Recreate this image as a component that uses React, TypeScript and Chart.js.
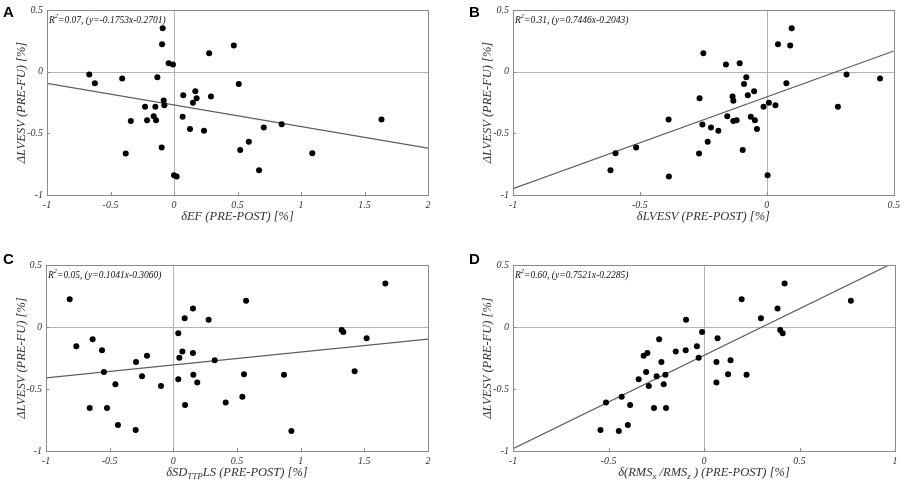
import { useEffect, useRef } from 'react';
import { Chart, registerables } from 'chart.js';

Chart.register(...registerables);

// ---- data ----
const yTicks = [-1, -0.5, 0, 0.5];

// A: dEF vs dLVESV
const aX = [-0.667, -0.623, -0.408, -0.34, -0.38, -0.228, -0.212, -0.16, -0.147, -0.141, -0.131, -0.089, -0.094, -0.081, -0.076, -0.097, -0.042, -0.008, 0.0, 0.021, 0.073, 0.068, 0.126, 0.149, 0.168, 0.178, 0.236, 0.277, 0.291, 0.471, 0.51, 0.521, 0.589, 0.67, 0.707, 0.848, 1.089, 1.634];
const aY = [-0.023, -0.093, -0.055, -0.401, -0.664, -0.285, -0.393, -0.361, -0.285, -0.393, -0.045, 0.353, 0.223, -0.234, -0.272, -0.615, 0.069, 0.058, -0.839, -0.85, -0.191, -0.366, -0.464, -0.253, -0.158, -0.215, -0.48, 0.15, -0.201, 0.212, -0.101, -0.636, -0.569, -0.799, -0.453, -0.426, -0.661, -0.388];
const aXTicks = [-1, -0.5, 0, 0.5, 1, 1.5, 2];

// B: dLVESV (PRE-POST)
const bX = [-0.616, -0.596, -0.515, -0.387, -0.386, -0.265, -0.267, -0.25, -0.254, -0.233, -0.22, -0.191, -0.161, -0.156, -0.135, -0.132, -0.132, -0.119, -0.107, -0.095, -0.09, -0.081, -0.075, -0.063, -0.05, -0.047, -0.039, -0.013, 0.003, 0.008, 0.034, 0.044, 0.077, 0.092, 0.098, 0.28, 0.314, 0.446];
const bY = [-0.799, -0.661, -0.615, -0.388, -0.85, -0.215, -0.664, 0.15, -0.428, -0.569, -0.453, -0.48, 0.058, -0.361, -0.201, -0.236, -0.401, -0.393, 0.069, -0.636, -0.101, -0.045, -0.191, -0.366, -0.158, -0.393, -0.464, -0.285, -0.839, -0.253, -0.272, 0.223, -0.093, 0.212, 0.353, -0.285, -0.023, -0.055];
const bXTicks = [-1, -0.5, 0, 0.5];

// C: dSD_TTP LS
const cX = [-0.814, -0.762, -0.634, -0.56, -0.545, -0.657, -0.521, -0.455, -0.435, -0.293, -0.296, -0.246, -0.207, -0.097, 0.039, 0.047, 0.039, 0.071, 0.089, 0.092, 0.154, 0.154, 0.157, 0.188, 0.277, 0.325, 0.411, 0.542, 0.555, 0.571, 0.869, 0.927, 1.322, 1.335, 1.424, 1.518, 1.665];
const cY = [0.223, -0.155, -0.099, -0.188, -0.362, -0.654, -0.654, -0.461, -0.791, -0.282, -0.831, -0.397, -0.231, -0.475, -0.051, -0.247, -0.421, -0.198, 0.07, -0.63, 0.15, -0.209, -0.386, -0.448, 0.059, -0.268, -0.609, -0.563, -0.381, 0.212, -0.386, -0.839, -0.024, -0.04, -0.357, -0.091, 0.351];
const cXTicks = [-1, -0.5, 0, 0.5, 1, 1.5, 2];

// D: d(RMSx/RMSz)
const dX = [-0.542, -0.513, -0.446, -0.431, -0.399, -0.387, -0.342, -0.316, -0.296, -0.303, -0.289, -0.262, -0.248, -0.235, -0.223, -0.211, -0.202, -0.199, -0.148, -0.096, -0.094, -0.037, -0.028, -0.01, 0.065, 0.065, 0.071, 0.126, 0.139, 0.197, 0.223, 0.298, 0.385, 0.399, 0.412, 0.422, 0.769];
const dY = [-0.831, -0.609, -0.839, -0.563, -0.791, -0.63, -0.421, -0.231, -0.209, -0.362, -0.475, -0.654, -0.397, -0.099, -0.282, -0.461, -0.386, -0.654, -0.198, -0.188, 0.059, -0.155, -0.247, -0.04, -0.282, -0.448, -0.091, -0.381, -0.268, 0.223, -0.386, 0.07, 0.15, -0.024, -0.051, 0.351, 0.212];
const dXTicks = [-1, -0.5, 0, 0.5, 1];

// regression fits per panel A..D
const fitR2 = ['0.07', '0.31', '0.05', '0.60'];
const fitSlope = [-0.1753, 0.7446, 0.1041, 0.7521];
const fitIntercept = [-0.2701, -0.2043, -0.306, -0.2285];

const yTitle = 'ΔLVESV (PRE-FU) [%]';

type Seg = { t: string; sub?: boolean };

const SERIF = '"Liberation Serif", "Times New Roman", serif';
const TEXT = '#333';

function drawRich(ctx: CanvasRenderingContext2D, segs: Seg[], cx: number, cy: number) {
  const main = `italic 12.5px ${SERIF}`;
  const small = `italic 9px ${SERIF}`;
  let w = 0;
  segs.forEach((s) => {
    ctx.font = s.sub ? small : main;
    w += ctx.measureText(s.t).width;
  });
  let x = cx - w / 2;
  ctx.textAlign = 'left';
  ctx.textBaseline = 'middle';
  segs.forEach((s) => {
    ctx.font = s.sub ? small : main;
    ctx.fillText(s.t, x, s.sub ? cy + 4 : cy);
    x += ctx.measureText(s.t).width;
  });
}

interface PanelProps {
  idx: number;
  letter: string;
  xs: number[];
  ys: number[];
  xTicks: number[];
  xTitle: Seg[];
  w: number;
  h: number;
  padL: number;
  padR: number;
  padT: number;
  axisH: number;
  letterX: number;
  letterY: number;
  yTitleX: number;
}

const Panel = (p: PanelProps) => {
  const ref = useRef<HTMLCanvasElement>(null);

  useEffect(() => {
    if (!ref.current) return;
    const xmin = p.xTicks[0];
    const xmax = p.xTicks[p.xTicks.length - 1];
    const slope = fitSlope[p.idx];
    const icpt = fitIntercept[p.idx];

    const decor = {
      id: 'decor' + p.letter,
      beforeDatasetsDraw(chart: any) {
        const { ctx, chartArea: a, scales } = chart;
        const x0 = Math.round(scales.x.getPixelForValue(0)) + 0.5;
        const y0 = Math.round(scales.y.getPixelForValue(0)) + 0.5;
        ctx.save();
        ctx.strokeStyle = '#b4b4b4';
        ctx.lineWidth = 1;
        ctx.beginPath();
        ctx.moveTo(x0, a.top);
        ctx.lineTo(x0, a.bottom);
        ctx.moveTo(a.left, y0);
        ctx.lineTo(a.right, y0);
        ctx.stroke();
        ctx.restore();
      },
      afterDraw(chart: any) {
        const { ctx, chartArea: a, scales } = chart;
        ctx.save();
        // box
        ctx.strokeStyle = '#8a8a8a';
        ctx.lineWidth = 1;
        ctx.strokeRect(Math.round(a.left) + 0.5, Math.round(a.top) + 0.5, Math.round(a.right - a.left), Math.round(a.bottom - a.top));
        // inner tick marks
        ctx.beginPath();
        p.xTicks.forEach((v) => {
          const px = Math.round(scales.x.getPixelForValue(v)) + 0.5;
          ctx.moveTo(px, a.bottom);
          ctx.lineTo(px, a.bottom - 3);
        });
        yTicks.forEach((v) => {
          const py = Math.round(scales.y.getPixelForValue(v)) + 0.5;
          ctx.moveTo(a.left, py);
          ctx.lineTo(a.left + 3, py);
        });
        ctx.stroke();

        ctx.fillStyle = TEXT;
        // x title
        drawRich(ctx, p.xTitle, (a.left + a.right) / 2, a.bottom + 22);
        // y title
        ctx.save();
        ctx.translate(p.yTitleX, (a.top + a.bottom) / 2);
        ctx.rotate(-Math.PI / 2);
        ctx.font = `italic 12.5px ${SERIF}`;
        ctx.textAlign = 'center';
        ctx.textBaseline = 'middle';
        ctx.fillText(yTitle, 0, 0);
        ctx.restore();

        // fit annotation
        const rest = `=${fitR2[p.idx]}, (y=${slope.toFixed(4)}x${icpt.toFixed(4)})`;
        ctx.fillStyle = '#111';
        ctx.textAlign = 'left';
        ctx.textBaseline = 'middle';
        let tx = a.left + 2;
        const ty = a.top + 10;
        ctx.font = `italic 9.5px ${SERIF}`;
        ctx.fillText('R', tx, ty);
        tx += ctx.measureText('R').width;
        ctx.font = `italic 6.5px ${SERIF}`;
        ctx.fillText('2', tx, ty - 3.5);
        tx += ctx.measureText('2').width;
        ctx.font = `italic 9.5px ${SERIF}`;
        ctx.fillText(rest, tx, ty);

        // panel letter
        ctx.fillStyle = '#000';
        ctx.font = 'bold 15px "Liberation Sans", Arial, sans-serif';
        ctx.textBaseline = 'alphabetic';
        ctx.fillText(p.letter, p.letterX, p.letterY);
        ctx.restore();
      },
    };

    const tickFont = { family: SERIF, style: 'italic' as const, size: 10 };

    const chart = new Chart(ref.current, {
      type: 'scatter',
      data: {
        datasets: [
          {
            data: p.xs.map((x, i) => ({ x, y: p.ys[i] })),
            backgroundColor: '#000',
            borderWidth: 0,
            pointRadius: 3,
          },
          {
            data: [
              { x: xmin, y: slope * xmin + icpt },
              { x: xmax, y: slope * xmax + icpt },
            ],
            showLine: true,
            borderColor: '#5e5e5e',
            borderWidth: 1.2,
            pointRadius: 0,
          } as any,
        ],
      },
      options: {
        animation: false,
        responsive: true,
        maintainAspectRatio: false,
        layout: { padding: { left: 0, right: p.padR, top: p.padT, bottom: 0 } },
        plugins: { legend: { display: false }, tooltip: { enabled: false } },
        scales: {
          x: {
            type: 'linear',
            min: xmin,
            max: xmax,
            grid: { display: false, drawTicks: false, tickLength: 0 },
            border: { display: false },
            afterBuildTicks: (s: any) => {
              s.ticks = p.xTicks.map((v) => ({ value: v }));
            },
            afterFit: (s: any) => {
              s.height = p.axisH;
            },
            ticks: {
              font: tickFont,
              color: TEXT,
              padding: 4,
              maxRotation: 0,
              callback: (v: any) => String(Number(v)),
            },
          },
          y: {
            type: 'linear',
            min: -1,
            max: 0.5,
            grid: { display: false, drawTicks: false, tickLength: 0 },
            border: { display: false },
            afterBuildTicks: (s: any) => {
              s.ticks = yTicks.map((v) => ({ value: v }));
            },
            afterFit: (s: any) => {
              s.width = p.padL;
            },
            ticks: {
              font: tickFont,
              color: TEXT,
              padding: 4,
              callback: (v: any) => String(Number(v)),
            },
          },
        },
      },
      plugins: [decor],
    });

    return () => {
      chart.destroy();
    };
  }, []);

  return (
    <div style={{ position: 'relative', width: p.w, height: p.h }}>
      <canvas ref={ref} />
    </div>
  );
};

const App = () => {
  return (
    <div
      style={{
        position: 'absolute',
        left: 0,
        top: 0,
        width: 904,
        height: 485,
        background: '#fff',
        display: 'grid',
        gridTemplateColumns: '452px 452px',
        gridTemplateRows: '242px 243px',
      }}
    >
      <Panel idx={0} letter="A" xs={aX} ys={aY} xTicks={aXTicks} xTitle={[{ t: 'δEF (PRE-POST) [%]' }]}
        w={452} h={242} padL={47} padR={24} padT={10} axisH={47} letterX={3} letterY={17} yTitleX={22} />
      <Panel idx={1} letter="B" xs={bX} ys={bY} xTicks={bXTicks} xTitle={[{ t: 'δLVESV (PRE-POST) [%]' }]}
        w={452} h={242} padL={61} padR={9} padT={10} axisH={47} letterX={17} letterY={17} yTitleX={35.5} />
      <Panel idx={2} letter="C" xs={cX} ys={cY} xTicks={cXTicks}
        xTitle={[{ t: 'δSD' }, { t: 'TTP', sub: true }, { t: 'LS (PRE-POST) [%]' }]}
        w={452} h={243} padL={46} padR={24} padT={23} axisH={34} letterX={3} letterY={22} yTitleX={21.5} />
      <Panel idx={3} letter="D" xs={dX} ys={dY} xTicks={dXTicks}
        xTitle={[{ t: 'δ(RMS' }, { t: 'x', sub: true }, { t: ' /RMS' }, { t: 'z', sub: true }, { t: ' ) (PRE-POST) [%]' }]}
        w={452} h={243} padL={61} padR={9} padT={23} axisH={34} letterX={17} letterY={22} yTitleX={35.5} />
    </div>
  );
};

export default App;
